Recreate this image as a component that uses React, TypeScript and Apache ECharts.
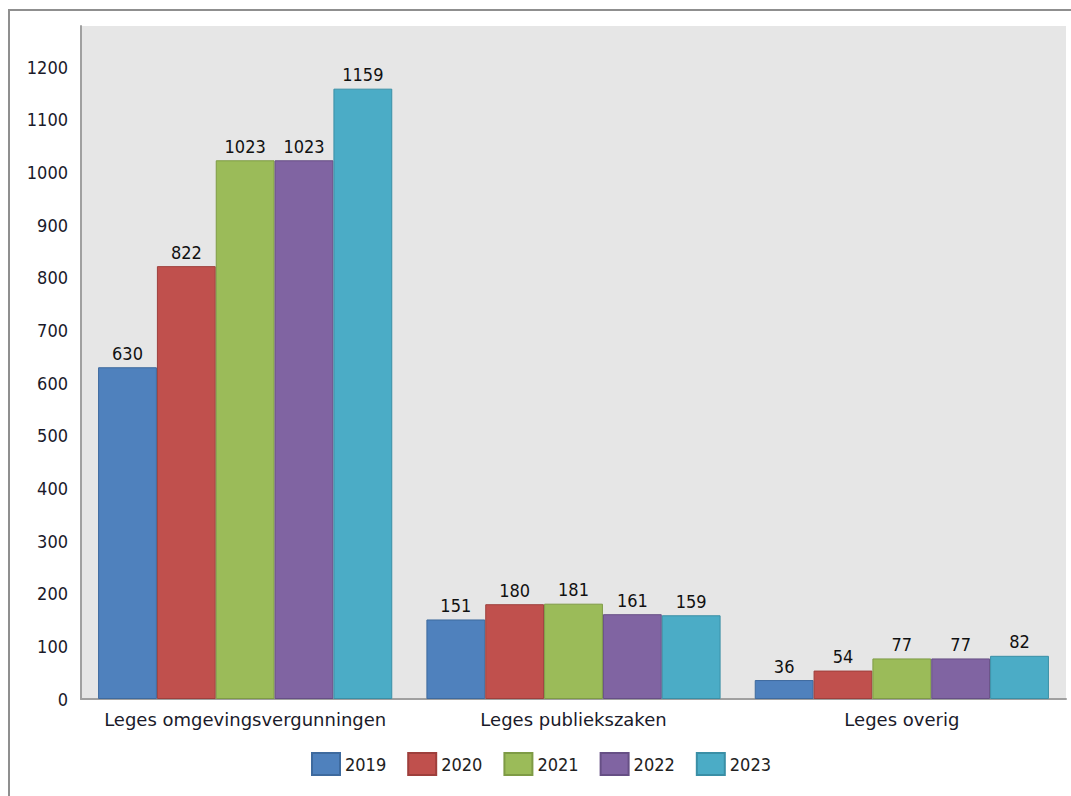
import React, { useEffect, useRef } from "react";
import * as echarts from "echarts";

const categories = ["Leges omgevingsvergunningen", "Leges publiekszaken", "Leges overig"];
const years = ["2019", "2020", "2021", "2022", "2023"];
const values2019 = [630, 151, 36];
const values2020 = [822, 180, 54];
const values2021 = [1023, 181, 77];
const values2022 = [1023, 161, 77];
const values2023 = [1159, 159, 82];
const seriesValues = [values2019, values2020, values2021, values2022, values2023];
const colors = ["#4F81BD", "#C0504D", "#9BBB59", "#8064A2", "#4BACC6"];
const borderColors = ["#3E6A9E", "#9E3F3C", "#7E9B45", "#664F85", "#3A8FA6"];

const FONT = "'DejaVu Sans Condensed', 'DejaVu Sans', sans-serif";
const FONT_WIDE = "'DejaVu Sans', sans-serif";

export default function App() {
  const ref = useRef<HTMLDivElement>(null);
  useEffect(() => {
    if (!ref.current) return;
    const chart = echarts.init(ref.current, undefined, { renderer: "svg" });
    chart.setOption({
      animation: false,
      backgroundColor: "#ffffff",
      textStyle: { fontFamily: FONT },
      graphic: [
        {
          type: "rect",
          shape: { x: 9, y: 10, width: 1100, height: 820 },
          style: { fill: "none", stroke: "#8f8f8f", lineWidth: 2 },
          silent: true,
          z: 100,
        },
      ],
      grid: {
        left: 81,
        right: 5,
        top: 26,
        bottom: 97,
        show: true,
        backgroundColor: "#E6E6E6",
        borderWidth: 0,
      },
      legend: {
        left: 306,
        top: 747,
        itemWidth: 28,
        itemHeight: 22,
        itemGap: 21,
        icon: "rect",
        data: years,
        textStyle: { fontFamily: FONT, fontSize: 18, color: "#222" },
      },
      xAxis: {
        type: "category",
        data: categories,
        axisLine: { show: true, lineStyle: { color: "#A0A0A0", width: 2 } },
        axisTick: { show: false },
        axisLabel: {
          interval: 0,
          fontFamily: FONT_WIDE,
          fontSize: 18,
          color: "#1a1a2a",
          margin: 11,
        },
      },
      yAxis: {
        type: "value",
        min: 0,
        max: 1278,
        interval: 100,
        splitLine: { show: false },
        axisLine: { show: true, lineStyle: { color: "#A0A0A0", width: 2 } },
        axisTick: { show: false },
        axisLabel: {
          fontFamily: FONT,
          fontSize: 18,
          color: "#1a1a2a",
          margin: 13,
          showMaxLabel: false,
          formatter: (v: number) => String(v),
        },
      },
      series: years.map((y, i) => ({
        name: y,
        type: "bar",
        data: seriesValues[i],
        barGap: "0%",
        barCategoryGap: "10.4%",
        itemStyle: { color: colors[i], borderColor: borderColors[i], borderWidth: 1 },
        label: {
          show: true,
          position: "top",
          distance: 5,
          fontFamily: FONT,
          fontSize: 18,
          color: "#111",
        },
      })),
    });
    return () => chart.dispose();
  }, []);
  return (
    <div
      ref={ref}
      style={{ position: "absolute", left: 0, top: 0, width: 1071, height: 796 }}
    />
  );
}
